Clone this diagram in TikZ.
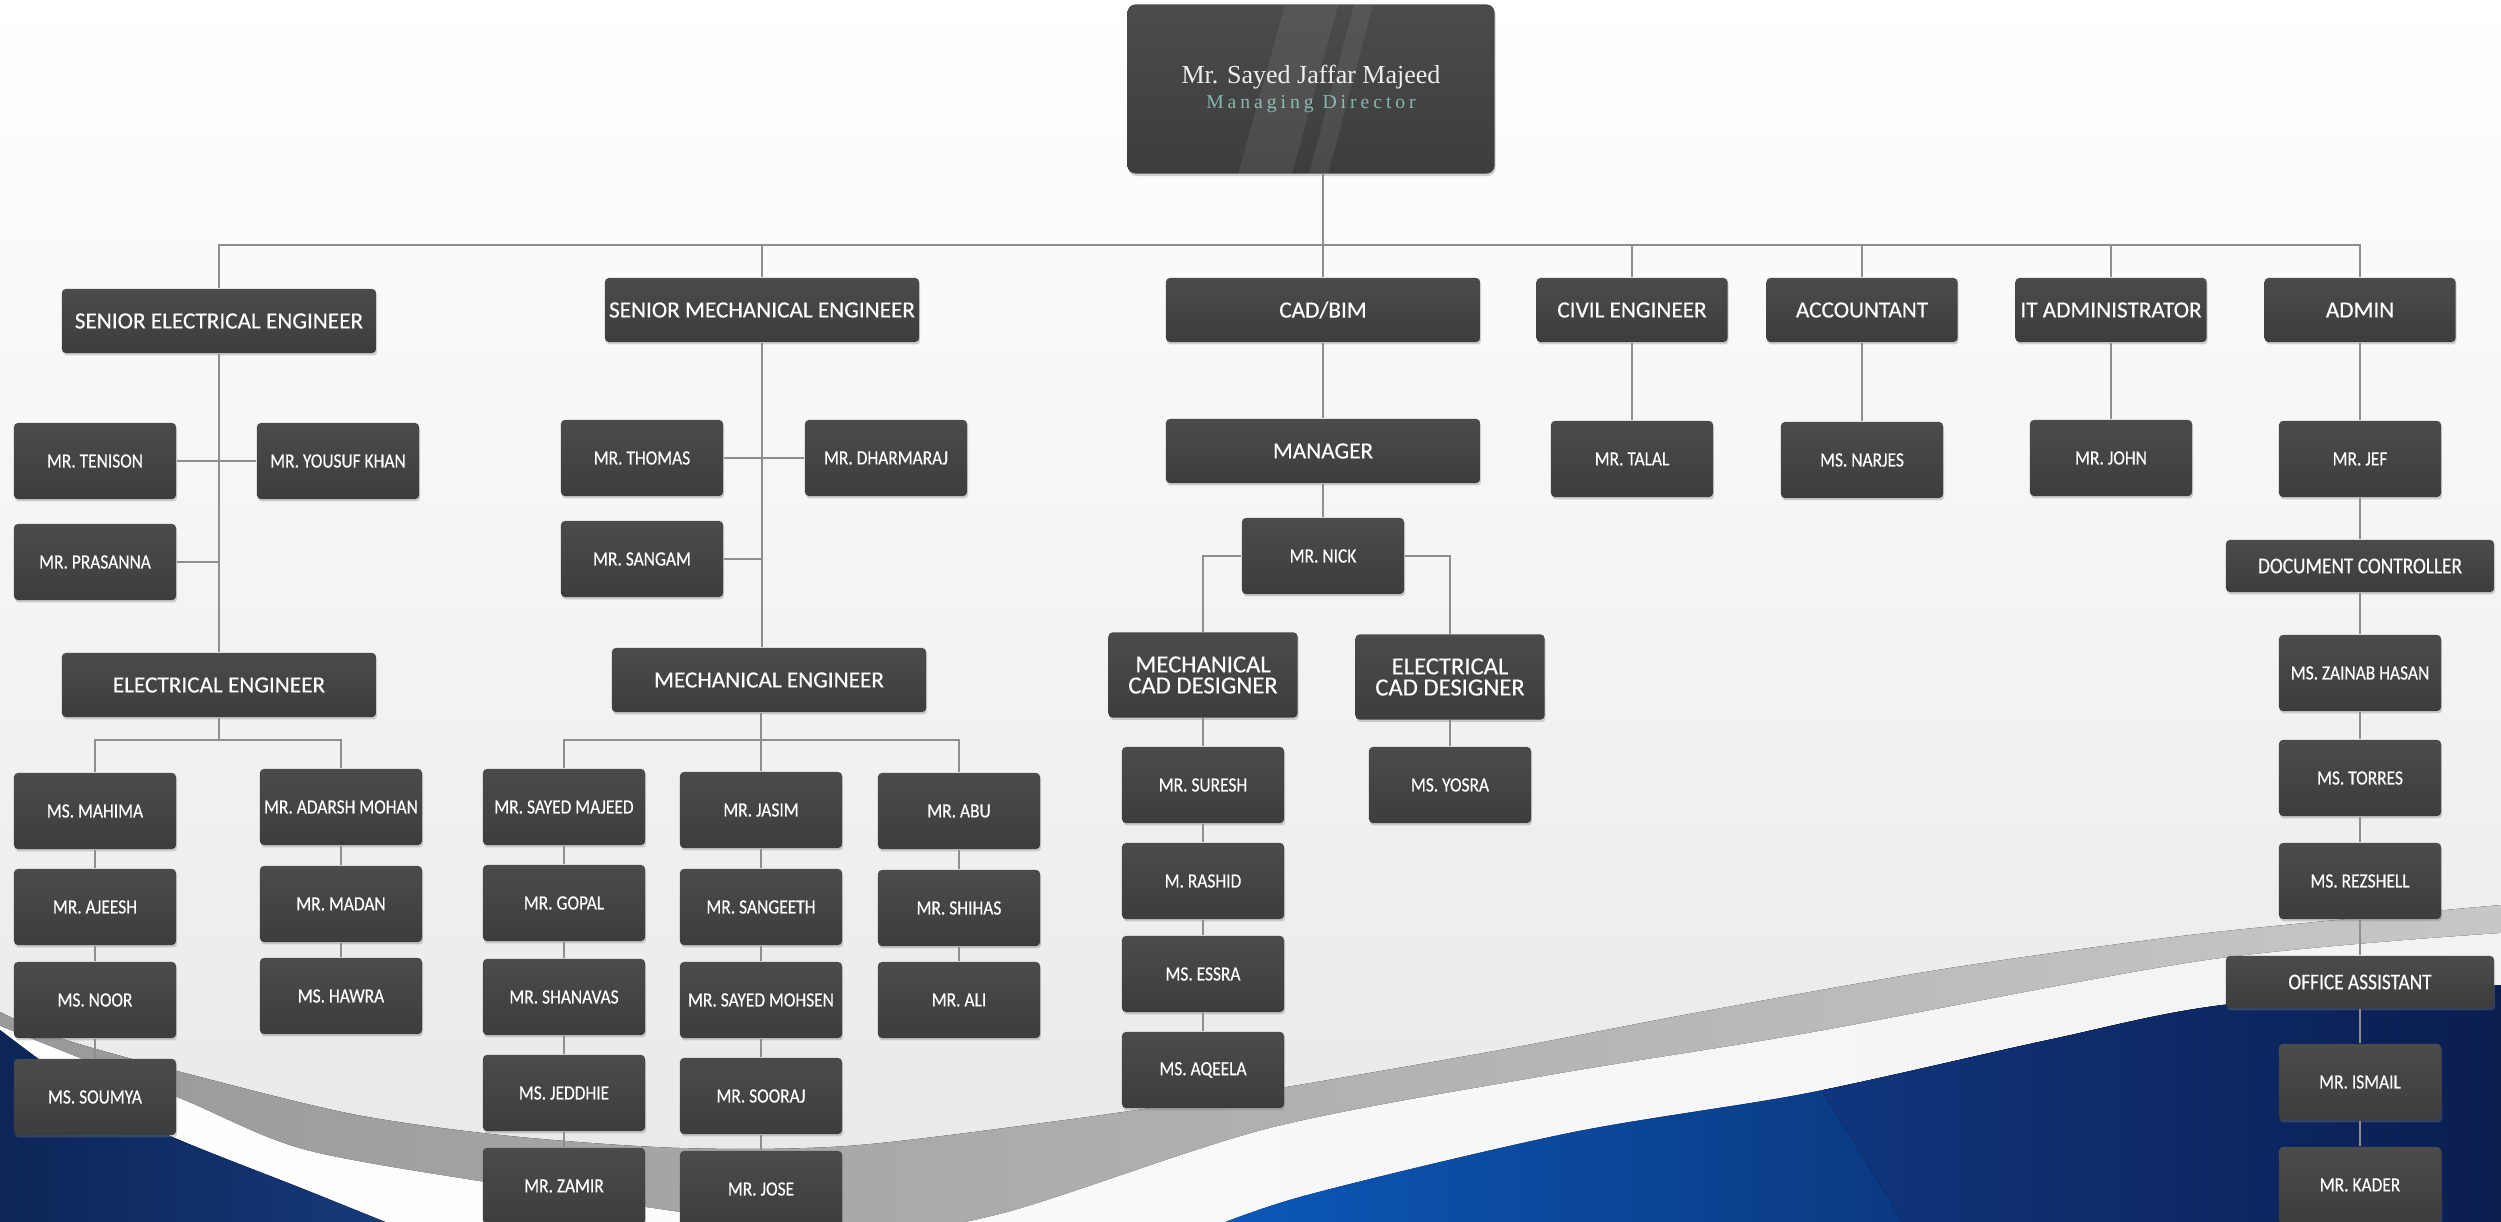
\documentclass[tikz,border=0pt]{standalone}
\usepackage{fontspec}
\setmainfont{Carlito}[FakeBold=0.3]
\newfontfamily\namefont{Carlito}[FakeStretch=0.86, FakeBold=0.35]
\newfontfamily\mdfont{Liberation Serif}
\newfontfamily\mdsubfont{Liberation Serif}[LetterSpace=20]
\usetikzlibrary{shadows}

\definecolor{cardtop}{HTML}{4B4B4B}
\definecolor{cardbot}{HTML}{3D3D3D}
\definecolor{linkgray}{HTML}{8E8E8E}
\definecolor{mdteal}{HTML}{84B6B1}
\definecolor{mdwhite}{HTML}{EDEDED}
\definecolor{navyA}{HTML}{0D2557}
\definecolor{navyB}{HTML}{163C7E}
\definecolor{blueA}{HTML}{0B5BBE}
\definecolor{blueB}{HTML}{123A86}
\definecolor{navyC}{HTML}{0A1D4E}

\tikzset{
  card/.style={rectangle, rounded corners=1.1pt, top color=cardtop, bottom color=cardbot,
    text=white, inner sep=0pt, align=center,
    drop shadow={shadow xshift=0.3pt, shadow yshift=-0.7pt, opacity=0.35}},
  namebox/.style={card, minimum width=1.62cm, minimum height=0.76cm,
    font=\namefont\fontsize{5.75}{6.5}\selectfont},
  titlebox/.style={card, minimum width=3.14cm, minimum height=0.64cm,
    font=\fontsize{6.6}{5.9}\selectfont},
  deptbox/.style={titlebox, minimum width=1.91cm},
  cadbox/.style={titlebox, minimum width=1.89cm, minimum height=0.85cm,
    font=\fontsize{7}{6}\selectfont},
  rolebox/.style={card, minimum width=2.68cm, minimum height=0.52cm,
    font=\namefont\fontsize{6.4}{7}\selectfont},
  link/.style={draw=linkgray, line width=0.45pt},
}

\begin{document}
\begin{tikzpicture}[x=0.01cm, y=-0.01cm]
	\useasboundingbox (0,0) rectangle (2501,1222);
	\clip (0,0) rectangle (2501,1222);
	% backdrop and swoosh
	\fill[top color=white, bottom color=black!9] (0,0) rectangle (2501,1222);
	\fill[left color=black!40, middle color=black!27, right color=black!22]
		plot[smooth] coordinates {(0,1012) (66,1040) (204,1078) (357,1115) (510,1136) (680,1148) (847,1146) (1050,1122) (1250,1093) (1500,1050) (1700,1012) (1950,968) (2207,933) (2501,905)}
		-- (2501,1260) -- (0,1260) -- cycle;
	\fill[left color=white, right color=black!5]
		plot[smooth] coordinates {(0,1026) (179,1098) (306,1150) (510,1186) (680,1212) (850,1234) (1000,1214) (1270,1128) (1550,1075) (1808,1033) (2207,960) (2501,933)}
		-- (2501,1260) -- (0,1260) -- cycle;
	\fill[left color=navyA, right color=navyB]
		plot[smooth] coordinates {(0,1030) (80,1088) (168,1135) (306,1190) (430,1240)}
		-- (0,1240) -- cycle;
	\begin{scope}
		\clip plot[smooth] coordinates {(1180,1240) (1300,1197) (1569,1133) (1808,1093) (2048,1040) (2223,1005) (2501,985)}
			-- (2520,985) -- (2520,1240) -- cycle;
		\fill[left color=blueA, right color=navyC] (1150,900) rectangle (2520,1240);
		\fill[left color=blueB, right color=navyC] (1704,900) -- (2520,900) -- (2520,1300) -- (1952,1300) -- cycle;
	\end{scope}

	\node[card, rounded corners=2.3pt, minimum width=3.67cm, minimum height=1.69cm,
		font=\mdfont\fontsize{7.4}{7.1}\selectfont, text=mdwhite] (md) at (1311,89)
		{Mr. Sayed Jaffar Majeed\\{\mdsubfont\fontsize{5.6}{7.1}\selectfont\color{mdteal}Managing Director}};
	\begin{scope}
		\clip[rounded corners=2.3pt] (md.south west) rectangle (md.north east);
		\fill[white, opacity=0.07] (1285,5) -- (1338,5) -- (1292,174) -- (1238,174) -- cycle;
		\fill[white, opacity=0.07] (1354,5) -- (1373,5) -- (1328,174) -- (1309,174) -- cycle;
	\end{scope}

	\node[titlebox] (see) at (219,321) {SENIOR ELECTRICAL ENGINEER};
	\node[titlebox] (sme) at (762,310) {SENIOR MECHANICAL ENGINEER};
	\node[titlebox] (cad) at (1323,310) {CAD/BIM};
	\node[deptbox] (civil) at (1632,310) {CIVIL ENGINEER};
	\node[deptbox] (acct) at (1862,310) {ACCOUNTANT};
	\node[deptbox] (itadm) at (2111,310) {IT ADMINISTRATOR};
	\node[deptbox] (admin) at (2360,310) {ADMIN};

	\node[namebox] (tenison) at (95,461) {MR. TENISON};
	\node[namebox] (yousuf) at (338,461) {MR. YOUSUF KHAN};
	\node[namebox] (prasanna) at (95,562) {MR. PRASANNA};
	\node[namebox] (thomas) at (642,458) {MR. THOMAS};
	\node[namebox] (dharmaraj) at (886,458) {MR. DHARMARAJ};
	\node[namebox] (sangam) at (642,559) {MR. SANGAM};
	\node[titlebox] (manager) at (1323,451) {MANAGER};
	\node[namebox] (nick) at (1323,556) {MR. NICK};
	\node[namebox] (talal) at (1632,459) {MR. TALAL};
	\node[namebox] (narjes) at (1862,460) {MS. NARJES};
	\node[namebox] (john) at (2111,458) {MR. JOHN};
	\node[namebox] (jef) at (2360,459) {MR. JEF};
	\node[rolebox] (doc) at (2360,566) {DOCUMENT CONTROLLER};

	\node[titlebox] (ee) at (219,685) {ELECTRICAL ENGINEER};
	\node[titlebox] (me) at (769,680) {MECHANICAL ENGINEER};
	\node[cadbox] (mcad) at (1203,675) {MECHANICAL\\CAD DESIGNER};
	\node[cadbox] (ecad) at (1450,677) {ELECTRICAL\\CAD DESIGNER};

	\node[namebox] (mahima) at (95,811) {MS. MAHIMA};
	\node[namebox] (ajeesh) at (95,907) {MR. AJEESH};
	\node[namebox] (noor) at (95,1000) {MS. NOOR};
	\node[namebox] (soumya) at (95,1097) {MS. SOUMYA};
	\node[namebox] (adarsh) at (341,807) {MR. ADARSH MOHAN};
	\node[namebox] (madan) at (341,904) {MR. MADAN};
	\node[namebox] (hawra) at (341,996) {MS. HAWRA};
	\node[namebox] (sayedm) at (564,807) {MR. SAYED MAJEED};
	\node[namebox] (gopal) at (564,903) {MR. GOPAL};
	\node[namebox] (shanavas) at (564,997) {MR. SHANAVAS};
	\node[namebox] (jeddhie) at (564,1093) {MS. JEDDHIE};
	\node[namebox] (zamir) at (564,1186) {MR. ZAMIR};
	\node[namebox] (jasim) at (761,810) {MR. JASIM};
	\node[namebox] (sangeeth) at (761,907) {MR. SANGEETH};
	\node[namebox] (mohsen) at (761,1000) {MR. SAYED MOHSEN};
	\node[namebox] (sooraj) at (761,1096) {MR. SOORAJ};
	\node[namebox] (jose) at (761,1189) {MR. JOSE};
	\node[namebox] (abu) at (959,811) {MR. ABU};
	\node[namebox] (shihas) at (959,908) {MR. SHIHAS};
	\node[namebox] (ali) at (959,1000) {MR. ALI};
	\node[namebox] (suresh) at (1203,785) {MR. SURESH};
	\node[namebox] (rashid) at (1203,881) {M. RASHID};
	\node[namebox] (essra) at (1203,974) {MS. ESSRA};
	\node[namebox] (aqeela) at (1203,1070) {MS. AQEELA};
	\node[namebox] (yosra) at (1450,785) {MS. YOSRA};
	\node[namebox] (zainab) at (2360,673) {MS. ZAINAB HASAN};
	\node[namebox] (torres) at (2360,778) {MS. TORRES};
	\node[namebox] (rezshell) at (2360,881) {MS. REZSHELL};
	\node[rolebox] (office) at (2360,982) {OFFICE ASSISTANT};
	\node[namebox] (ismail) at (2360,1082) {MR. ISMAIL};
	\node[namebox] (kader) at (2360,1185) {MR. KADER};

	\coordinate (topbus) at (1323,245);
	\coordinate (eebus) at (219,740);
	\coordinate (mebus) at (761,740);
	\draw[link] (md.south -| cad.north) -- (cad.north);
	\draw[link] (see.north) |- (topbus) -| (admin.north);
	\foreach \n in {sme,civil,acct,itadm}
		\draw[link] (\n.north) -- (\n.north |- topbus);
	\draw[link] (tenison.east) -- (yousuf.west);
	\draw[link] (prasanna.east) -- (prasanna.east -| see.south);
	\draw[link] (thomas.east) -- (dharmaraj.west);
	\draw[link] (sangam.east) -- (sangam.east -| sme.south);
	\draw[link] (sme.south) -- (sme.south |- me.north);
	\draw[link] (ee.south) -- (eebus);
	\draw[link] (mahima.north) |- (eebus) -| (adarsh.north);
	\draw[link] (me.south -| mebus) -- (mebus);
	\draw[link] (sayedm.north) |- (mebus) -| (abu.north);
	\draw[link] (mebus) -- (jasim.north);
	\draw[link] (nick.west) -| (mcad.north);
	\draw[link] (nick.east) -| (ecad.north);
	\foreach \a/\b in {see/ee,cad/manager,manager/nick,civil/talal,acct/narjes,itadm/john,
		admin/jef,jef/doc,doc/zainab,zainab/torres,torres/rezshell,rezshell/office,office/ismail,ismail/kader,
		mahima/ajeesh,ajeesh/noor,noor/soumya,adarsh/madan,madan/hawra,
		sayedm/gopal,gopal/shanavas,shanavas/jeddhie,jeddhie/zamir,
		jasim/sangeeth,sangeeth/mohsen,mohsen/sooraj,sooraj/jose,abu/shihas,shihas/ali,
		mcad/suresh,suresh/rashid,rashid/essra,essra/aqeela,ecad/yosra}
		\draw[link] (\a.south) -- (\b.north);
\end{tikzpicture}
\end{document}
